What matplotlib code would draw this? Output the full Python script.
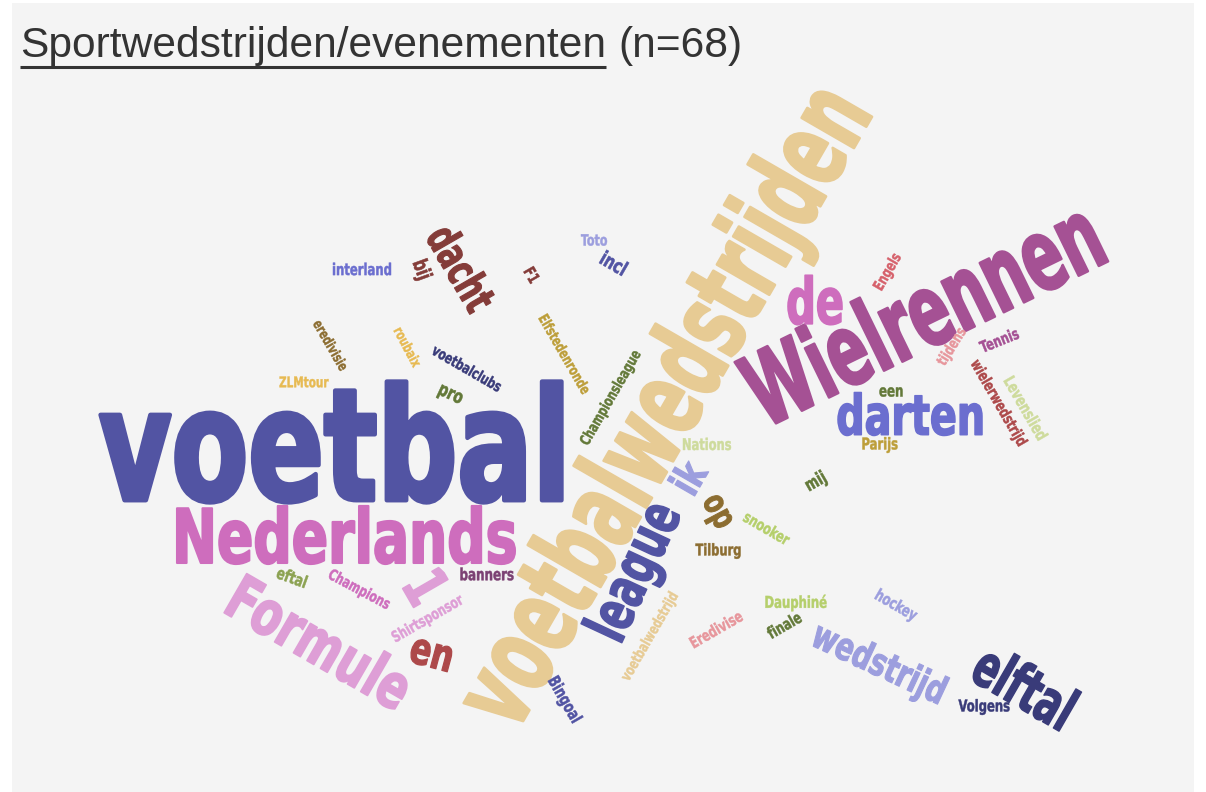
import matplotlib
matplotlib.use('Agg')
import matplotlib.pyplot as plt
from matplotlib.font_manager import FontProperties
from matplotlib.patches import PathPatch, Rectangle
from matplotlib.textpath import TextPath
from matplotlib.transforms import Affine2D

# Words of the cloud (Dutch), with the tab20b colour index each one is drawn in
words = ['voetbal', 'voetbalwedstrijden', 'Wielrennen', 'Nederlands', 'Formule', '1',
         'darten', 'de', 'league', 'ik', 'op', 'dacht', 'elftal', 'wedstrijd', 'en',
         'Toto', 'incl', 'interland', 'bij', 'F1', 'eredivisie', 'roubaix',
         'voetbalclubs', 'Elfstedenronde', 'Championsleague', 'ZLMtour', 'pro',
         'Engels', 'tijdens', 'Tennis', 'wielerwedstrijd', 'Levenslied', 'een',
         'Nations', 'Parijs', 'mij', 'snooker', 'Tilburg', 'eftal', 'Champions',
         'banners', 'Shirtsponsor', 'Bingoal', 'voetbalwedstrijd', 'Dauphiné',
         'finale', 'hockey', 'Eredivise', 'Volgens']
color_idx = [1, 11, 17, 18, 19, 19,
             2, 18, 1, 3, 8, 12, 0, 3, 13,
             3, 1, 2, 12, 12, 8, 10,
             0, 9, 4, 10, 4,
             14, 15, 17, 13, 7, 4,
             7, 9, 4, 6, 8, 5, 18,
             16, 19, 1, 11, 6,
             4, 3, 15, 0]

# Layout in pixels: ink centre, rotation (degrees, counter-clockwise), ink length
x_pos = [331, 668, 921, 346, 321, 427,
         910, 815, 637, 688, 715, 462, 1025, 878, 431,
         594, 614, 362, 421, 532, 331, 408,
         467, 565, 611, 304, 450,
         888, 952, 999, 998, 1026, 891,
         707, 880, 816, 767, 718, 292, 359,
         487, 428, 564, 650, 796,
         784, 896, 716, 984]
y_pos = [442, 410, 311, 535, 642, 587,
         414, 300, 572, 476, 513, 268, 686, 665, 655,
         240, 263, 269, 270, 275, 345, 347,
         368, 354, 398, 382, 396,
         272, 347, 340, 403, 408, 392,
         444, 445, 482, 528, 551, 577, 590,
         574, 619, 700, 637, 603,
         625, 606, 629, 707]
angles = [0, 60, 26, 0, -30, -60,
          0, 0, 65, 60, -62, -60, -30, -25, -15,
          0, -30, 0, -70, -60, -60, -62,
          -30, -60, 60, 0, -25,
          60, 58, 22, -60, -60, 0,
          0, 0, 30, -30, 0, -20, -28,
          0, 30, -60, 60, 0,
          30, -30, 30, 0]
lengths = [461, 712, 380, 338, 197, 22,
           144, 54, 141, 28, 32, 89, 104, 141, 40,
           26, 26, 58, 18, 14, 55, 42,
           77, 88, 106, 49, 24,
           39, 41, 40, 96, 69, 23,
           48, 35, 20, 50, 45, 30, 67,
           53, 79, 49, 99, 61,
           36, 45, 57, 51]

# extra height for words whose letters are wider in the fallback font than in Impact
taller = {'voetbalwedstrijden': 1.2, 'Wielrennen': 1.2, 'elftal': 1.15, 'de': 1.1,
          'league': 1.1, 'dacht': 1.1}

palette = plt.get_cmap('tab20b').colors
font = FontProperties(family='DejaVu Sans', weight='bold', stretch='condensed')

fig = plt.figure(figsize=(12.06, 7.92), dpi=100, facecolor='white')
ax = fig.add_axes([0, 0, 1, 1])
ax.set_xlim(0, 1206)
ax.set_ylim(792, 0)
ax.axis('off')
ax.add_patch(Rectangle((12, 3), 1182, 789, facecolor='#f4f4f4', edgecolor='none'))

# vertical stretch so the font gets Impact-like proportions (taken from "voetbal")
ref = TextPath((0, 0), 'voetbal', size=100, prop=font).get_extents()
stretch = (121 / 461) / (ref.height / ref.width)

for word, cx, cy, ang, length, ci in zip(words, x_pos, y_pos, angles, lengths, color_idx):
    path = TextPath((0, 0), word, size=100, prop=font)
    ext = path.get_extents()
    sx = length / ext.width
    sy = sx * stretch * taller.get(word, 1.0)
    tr = (Affine2D()
          .translate(-(ext.x0 + ext.x1) / 2, -(ext.y0 + ext.y1) / 2)
          .scale(sx, sy)
          .rotate_deg(ang)
          .scale(1, -1)
          .translate(cx, cy))
    col = palette[ci]
    ax.add_patch(PathPatch(tr.transform_path(path), facecolor=col, edgecolor=col,
                           lw=100 * sx * 0.035 * 0.72, joinstyle='round'))

# title with underlined first part
t1 = ax.text(20, 57, 'Sportwedstrijden/evenementen', fontsize=30.6,
             family='Liberation Sans', color='#333333', va='baseline')
fig.canvas.draw()
bb = t1.get_window_extent().transformed(ax.transData.inverted())
ax.plot([20, bb.x1], [67, 67], color='#333333', lw=2.2, solid_capstyle='butt')
ax.text(bb.x1 + 12, 57, '(n=68)', fontsize=30.6, family='Liberation Sans',
        color='#333333', va='baseline')

fig.savefig('out.png', dpi=100, facecolor='white')
